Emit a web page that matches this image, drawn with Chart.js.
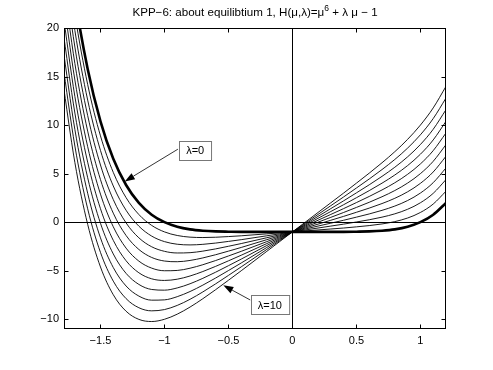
<!DOCTYPE html>
<html>
<head>
<meta charset="utf-8">
<script src="https://cdn.jsdelivr.net/npm/chart.js@4/dist/chart.umd.min.js"></script>
<style>
  html, body { margin: 0; padding: 0; background: #fff; }
  canvas { display: block; }
</style>
</head>
<body>
<canvas id="chart" width="493" height="370"></canvas>
<script>
// mu samples
const mu = [-1.8, -1.7, -1.6, -1.5, -1.4, -1.3, -1.2, -1.1, -1.0, -0.9, -0.8, -0.7, -0.6, -0.5, -0.4, -0.3, -0.2, -0.1,
  0, 0.1, 0.2, 0.3, 0.4, 0.5, 0.6, 0.7, 0.8, 0.9, 1.0, 1.1, 1.2];

// H(mu, lambda), one array per lambda
const h0 = [33.01, 23.14, 15.78, 10.39, 6.53, 3.83, 1.99, 0.77, 0, -0.47, -0.74, -0.88, -0.95, -0.98, -1, -1, -1, -1,
  -1, -1, -1, -1, -1, -0.98, -0.95, -0.88, -0.74, -0.47, 0, 0.77, 1.99];
const h1 = [31.21, 21.44, 14.18, 8.89, 5.13, 2.53, 0.79, -0.33, -1, -1.37, -1.54, -1.58, -1.55, -1.48, -1.4, -1.3, -1.2, -1.1,
  -1, -0.9, -0.8, -0.7, -0.6, -0.48, -0.35, -0.18, 0.06, 0.43, 1, 1.87, 3.19];
const h2 = [29.41, 19.74, 12.58, 7.39, 3.73, 1.23, -0.41, -1.43, -2, -2.27, -2.34, -2.28, -2.15, -1.98, -1.8, -1.6, -1.4, -1.2,
  -1, -0.8, -0.6, -0.4, -0.2, 0.02, 0.25, 0.52, 0.86, 1.33, 2, 2.97, 4.39];
const h3 = [27.61, 18.04, 10.98, 5.89, 2.33, -0.07, -1.61, -2.53, -3, -3.17, -3.14, -2.98, -2.75, -2.48, -2.2, -1.9, -1.6, -1.3,
  -1, -0.7, -0.4, -0.1, 0.2, 0.52, 0.85, 1.22, 1.66, 2.23, 3, 4.07, 5.59];
const h4 = [25.81, 16.34, 9.38, 4.39, 0.93, -1.37, -2.81, -3.63, -4, -4.07, -3.94, -3.68, -3.35, -2.98, -2.6, -2.2, -1.8, -1.4,
  -1, -0.6, -0.2, 0.2, 0.6, 1.02, 1.45, 1.92, 2.46, 3.13, 4, 5.17, 6.79];
const h5 = [24.01, 14.64, 7.78, 2.89, -0.47, -2.67, -4.01, -4.73, -5, -4.97, -4.74, -4.38, -3.95, -3.48, -3, -2.5, -2, -1.5,
  -1, -0.5, 0, 0.5, 1, 1.52, 2.05, 2.62, 3.26, 4.03, 5, 6.27, 7.99];
const h6 = [22.21, 12.94, 6.18, 1.39, -1.87, -3.97, -5.21, -5.83, -6, -5.87, -5.54, -5.08, -4.55, -3.98, -3.4, -2.8, -2.2, -1.6,
  -1, -0.4, 0.2, 0.8, 1.4, 2.02, 2.65, 3.32, 4.06, 4.93, 6, 7.37, 9.19];
const h7 = [20.41, 11.24, 4.58, -0.11, -3.27, -5.27, -6.41, -6.93, -7, -6.77, -6.34, -5.78, -5.15, -4.48, -3.8, -3.1, -2.4, -1.7,
  -1, -0.3, 0.4, 1.1, 1.8, 2.52, 3.25, 4.02, 4.86, 5.83, 7, 8.47, 10.39];
const h8 = [18.61, 9.54, 2.98, -1.61, -4.67, -6.57, -7.61, -8.03, -8, -7.67, -7.14, -6.48, -5.75, -4.98, -4.2, -3.4, -2.6, -1.8,
  -1, -0.2, 0.6, 1.4, 2.2, 3.02, 3.85, 4.72, 5.66, 6.73, 8, 9.57, 11.59];
const h9 = [16.81, 7.84, 1.38, -3.11, -6.07, -7.87, -8.81, -9.13, -9, -8.57, -7.94, -7.18, -6.35, -5.48, -4.6, -3.7, -2.8, -1.9,
  -1, -0.1, 0.8, 1.7, 2.6, 3.52, 4.45, 5.42, 6.46, 7.63, 9, 10.67, 12.79];
const h10 = [15.01, 6.14, -0.22, -4.61, -7.47, -9.17, -10.01, -10.23, -10, -9.47, -8.74, -7.88, -6.95, -5.98, -5, -4, -3, -2,
  -1, 0, 1, 2, 3, 4.02, 5.05, 6.12, 7.26, 8.53, 10, 11.77, 13.99];

const curves = [h0, h1, h2, h3, h4, h5, h6, h7, h8, h9, h10];

const xTicks = [-1.5, -1, -0.5, 0, 0.5, 1];
const yTicks = [-10, -5, 0, 5, 10, 15, 20];

// callouts: label, box centre, arrow tail, arrow tip (data units)
const notes = [
  { text: "λ=0", box: [-0.76, 7.42], from: [-0.895, 7.52], to: [-1.31, 4.2] },
  { text: "λ=10", box: [-0.177, -8.48], from: [-0.33, -8.01], to: [-0.54, -6.5] }
];

const FONT = "'Liberation Sans', Arial, Helvetica, sans-serif";

const fmt = (v) => String(v).replace("-", "\u2212");

const datasets = curves.map((c, i) => ({
  data: c.map((y, k) => ({ x: mu[k], y })),
  borderColor: "#000",
  borderWidth: i === 0 ? 2.6 : 0.9,
  pointRadius: 0,
  cubicInterpolationMode: "monotone",
  clip: 0,
  order: i === 0 ? 0 : 1
}));

const decor = {
  id: "decor",
  beforeDatasetsDraw(chart) {
    const { ctx, chartArea: a, scales: { x, y } } = chart;
    ctx.save();
    ctx.strokeStyle = "#000";
    ctx.lineWidth = 1;
    const x0 = Math.round(x.getPixelForValue(0)) + 0.5;
    const y0 = Math.round(y.getPixelForValue(0)) + 0.5;
    ctx.beginPath();
    ctx.moveTo(x0, a.top); ctx.lineTo(x0, a.bottom);
    ctx.moveTo(a.left, y0); ctx.lineTo(a.right, y0);
    ctx.stroke();
    ctx.restore();
  },
  afterDatasetsDraw(chart) {
    const { ctx, chartArea: a, scales: { x, y } } = chart;
    ctx.save();
    // box and inward ticks
    ctx.strokeStyle = "#000";
    ctx.lineWidth = 1;
    const L = Math.round(a.left) + 0.5, R = Math.round(a.right) - 0.5;
    const T = Math.round(a.top) + 0.5, B = Math.round(a.bottom) - 0.5;
    ctx.strokeRect(L, T, R - L, B - T);
    ctx.beginPath();
    xTicks.forEach(v => {
      const px = Math.round(x.getPixelForValue(v)) + 0.5;
      ctx.moveTo(px, B); ctx.lineTo(px, B - 4);
      ctx.moveTo(px, T); ctx.lineTo(px, T + 4);
    });
    yTicks.forEach(v => {
      const py = Math.round(y.getPixelForValue(v)) + 0.5;
      ctx.moveTo(L, py); ctx.lineTo(L + 4, py);
      ctx.moveTo(R, py); ctx.lineTo(R - 4, py);
    });
    ctx.stroke();

    // callouts
    ctx.font = "11px " + FONT;
    notes.forEach(n => {
      const fx = x.getPixelForValue(n.from[0]), fy = y.getPixelForValue(n.from[1]);
      const tx = x.getPixelForValue(n.to[0]), ty = y.getPixelForValue(n.to[1]);
      const ang = Math.atan2(ty - fy, tx - fx);
      const hl = 10, hw = 3.5;
      const bx = tx - hl * Math.cos(ang), by = ty - hl * Math.sin(ang);
      ctx.strokeStyle = "#000";
      ctx.lineWidth = 0.8;
      ctx.beginPath();
      ctx.moveTo(fx, fy); ctx.lineTo(bx, by);
      ctx.stroke();
      ctx.fillStyle = "#000";
      ctx.beginPath();
      ctx.moveTo(tx, ty);
      ctx.lineTo(bx + hw * Math.sin(ang), by - hw * Math.cos(ang));
      ctx.lineTo(bx - hw * Math.sin(ang), by + hw * Math.cos(ang));
      ctx.closePath();
      ctx.fill();

      const cx = x.getPixelForValue(n.box[0]), cy = y.getPixelForValue(n.box[1]);
      const w = ctx.measureText(n.text).width + 14, h = 19;
      const rx = Math.round(cx - w / 2) + 0.5, ry = Math.round(cy - h / 2) + 0.5;
      ctx.fillStyle = "#fff";
      ctx.fillRect(rx, ry, w, h);
      ctx.strokeStyle = "#777";
      ctx.lineWidth = 1;
      ctx.strokeRect(rx, ry, w, h);
      ctx.fillStyle = "#000";
      ctx.textAlign = "center";
      ctx.textBaseline = "middle";
      ctx.fillText(n.text, cx, cy + 1);
    });

    // title with superscript
    const p1 = "KPP\u22126: about equilibtium 1, H(\u03bc,\u03bb)=\u03bc";
    const sup = "6";
    const p2 = " + \u03bb \u03bc \u2212 1";
    const big = "11.6px " + FONT, small = "8.5px " + FONT;
    ctx.textAlign = "left";
    ctx.textBaseline = "alphabetic";
    ctx.font = big;
    const w1 = ctx.measureText(p1).width, w3 = ctx.measureText(p2).width;
    ctx.font = small;
    const w2 = ctx.measureText(sup).width;
    let sx = (a.left + a.right) / 2 - (w1 + w2 + w3) / 2;
    const base = 16;
    ctx.font = big;
    ctx.fillText(p1, sx, base);
    sx += w1;
    ctx.font = small;
    ctx.fillText(sup, sx, base - 5);
    sx += w2;
    ctx.font = big;
    ctx.fillText(p2, sx, base);
    ctx.restore();
  }
};

new Chart(document.getElementById("chart"), {
  type: "line",
  data: { datasets },
  options: {
    responsive: false,
    animation: false,
    devicePixelRatio: 1,
    layout: { padding: { left: 20, right: 47, top: 28, bottom: 21 } },
    plugins: { legend: { display: false }, tooltip: { enabled: false } },
    scales: {
      x: {
        type: "linear",
        min: -1.785,
        max: 1.2,
        grid: { display: false, drawTicks: false },
        border: { display: false },
        afterBuildTicks: (s) => { s.ticks = xTicks.map(v => ({ value: v })); },
        afterFit: (s) => { s.height = 20; },
        ticks: {
          color: "#000",
          padding: 5,
          maxRotation: 0,
          font: { family: FONT, size: 11 },
          callback: (v) => fmt(v)
        }
      },
      y: {
        min: -11,
        max: 20,
        grid: { display: false, drawTicks: false },
        border: { display: false },
        afterBuildTicks: (s) => { s.ticks = yTicks.map(v => ({ value: v })); },
        afterFit: (s) => { s.width = 44; },
        ticks: {
          color: "#000",
          padding: 5,
          font: { family: FONT, size: 11 },
          callback: (v) => fmt(v)
        }
      }
    }
  },
  plugins: [decor]
});
</script>
</body>
</html>
